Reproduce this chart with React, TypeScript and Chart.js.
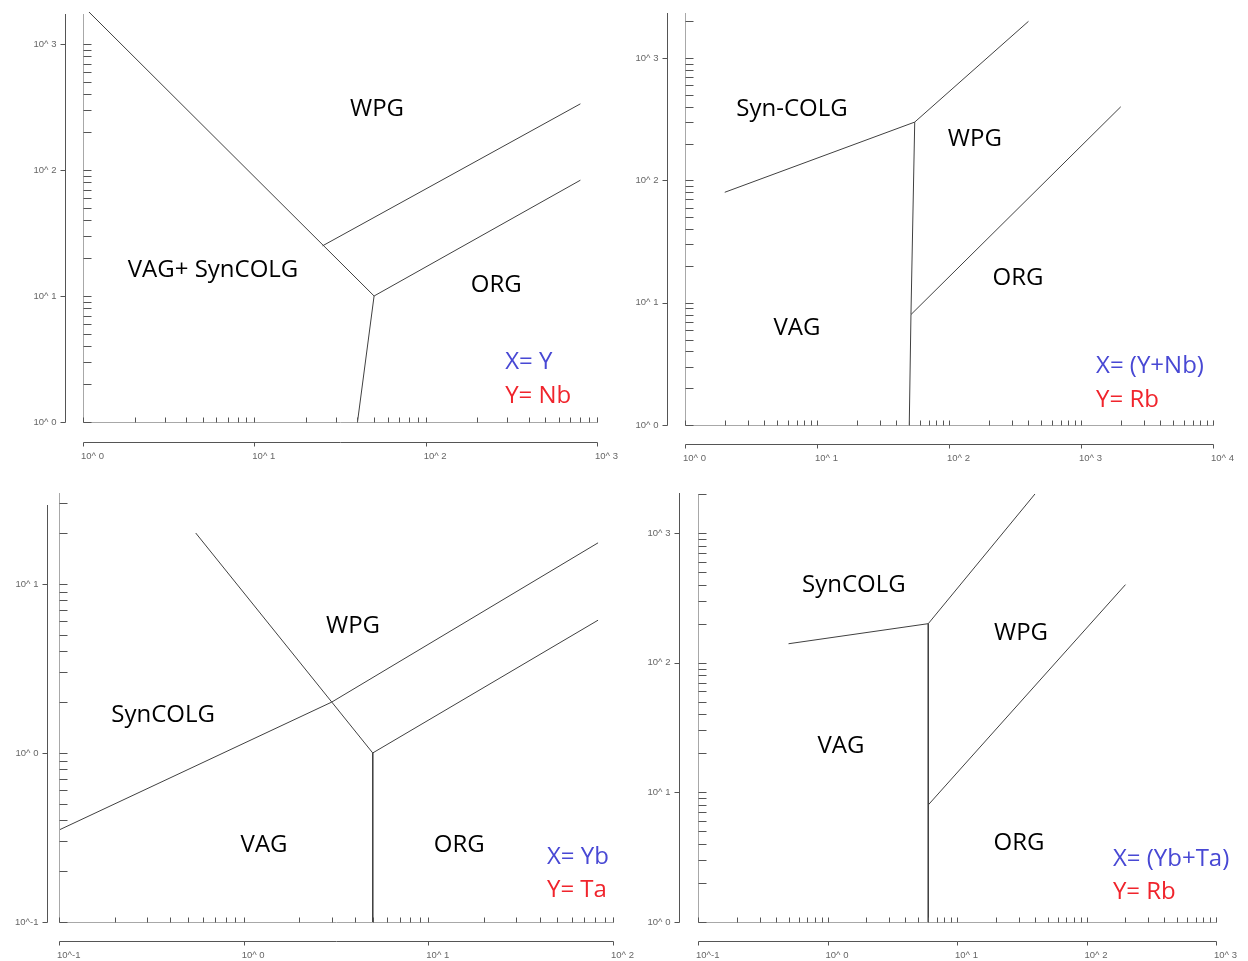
import React, { useEffect, useRef } from 'react';
import { Chart, registerables } from 'chart.js';

Chart.register(...registerables);

// ---------- Panel 1: Nb vs Y ----------
const P1_X_TICK_VALUES = [1, 10, 100, 1000];
const P1_X_TICK_LABELS = ['10^ 0', '10^ 1', '10^ 2', '10^ 3'];
const P1_Y_TICK_VALUES = [1, 10, 100, 1000];
const P1_Y_TICK_LABELS = ['10^ 0', '10^ 1', '10^ 2', '10^ 3'];
const P1_LINE_A_X = [1, 50, 40];
const P1_LINE_A_Y = [2000, 10, 1];
const P1_LINE_B_X = [50, 800];
const P1_LINE_B_Y = [10, 83];
const P1_LINE_C_X = [25, 800];
const P1_LINE_C_Y = [25, 335];
const P1_FIELD_NAMES = ['WPG', 'VAG+ SynCOLG', 'ORG'];
const P1_FIELD_X = [52, 5.74, 258];
const P1_FIELD_Y = [316, 16.7, 12.7];
const P1_AXIS_NAMES = ['X= Y', 'Y= Nb'];
const P1_AXIS_NAME_X = [291, 291];
const P1_AXIS_NAME_Y = [3.1, 1.67];

// ---------- Panel 2: Rb vs (Y+Nb) ----------
const P2_X_TICK_VALUES = [1, 10, 100, 1000, 10000];
const P2_X_TICK_LABELS = ['10^ 0', '10^ 1', '10^ 2', '10^ 3', '10^ 4'];
const P2_Y_TICK_VALUES = [1, 10, 100, 1000];
const P2_Y_TICK_LABELS = ['10^ 0', '10^ 1', '10^ 2', '10^ 3'];
const P2_LINE_A_X = [2, 55, 400];
const P2_LINE_A_Y = [80, 300, 2000];
const P2_LINE_B_X = [55, 51.5, 50];
const P2_LINE_B_Y = [300, 8, 1];
const P2_LINE_C_X = [51.5, 2000];
const P2_LINE_C_Y = [8, 400];
const P2_FIELD_NAMES = ['Syn-COLG', 'WPG', 'ORG', 'VAG'];
const P2_FIELD_X = [6.47, 157, 333, 7.05];
const P2_FIELD_Y = [398, 226, 16.5, 6.45];
const P2_AXIS_NAMES = ['X= (Y+Nb)', 'Y= Rb'];
const P2_AXIS_NAME_X = [1300, 1300];
const P2_AXIS_NAME_Y = [3.15, 1.66];

// ---------- Panel 3: Ta vs Yb ----------
const P3_X_TICK_VALUES = [0.1, 1, 10, 100];
const P3_X_TICK_LABELS = ['10^-1', '10^ 0', '10^ 1', '10^ 2'];
const P3_Y_TICK_VALUES = [0.1, 1, 10];
const P3_Y_TICK_LABELS = ['10^-1', '10^ 0', '10^ 1'];
const P3_LINE_A_X = [0.1, 3, 83];
const P3_LINE_A_Y = [0.35, 2, 17.5];
const P3_LINE_B_X = [0.55, 3, 5, 5];
const P3_LINE_B_Y = [20, 2, 1, 0.1];
const P3_LINE_C_X = [5, 83];
const P3_LINE_C_Y = [1, 6.1];
const P3_FIELD_NAMES = ['WPG', 'SynCOLG', 'VAG', 'ORG'];
const P3_FIELD_X = [3.91, 0.366, 1.29, 14.7];
const P3_FIELD_Y = [5.79, 1.73, 0.293, 0.293];
const P3_AXIS_NAMES = ['X= Yb', 'Y= Ta'];
const P3_AXIS_NAME_X = [43.9, 43.9];
const P3_AXIS_NAME_Y = [0.249, 0.159];

// ---------- Panel 4: Rb vs (Yb+Ta) ----------
const P4_X_TICK_VALUES = [0.1, 1, 10, 100, 1000];
const P4_X_TICK_LABELS = ['10^-1', '10^ 0', '10^ 1', '10^ 2', '10^ 3'];
const P4_Y_TICK_VALUES = [1, 10, 100, 1000];
const P4_Y_TICK_LABELS = ['10^ 0', '10^ 1', '10^ 2', '10^ 3'];
const P4_LINE_A_X = [0.5, 6, 40];
const P4_LINE_A_Y = [140, 200, 2000];
const P4_LINE_B_X = [6, 6, 6];
const P4_LINE_B_Y = [200, 8, 1];
const P4_LINE_C_X = [6, 200];
const P4_LINE_C_Y = [8, 400];
const P4_FIELD_NAMES = ['SynCOLG', 'WPG', 'VAG', 'ORG'];
const P4_FIELD_X = [1.6, 31.2, 1.27, 30.1];
const P4_FIELD_Y = [411, 175, 23.6, 4.21];
const P4_AXIS_NAMES = ['X= (Yb+Ta)', 'Y= Rb'];
const P4_AXIS_NAME_X = [160, 160];
const P4_AXIS_NAME_Y = [3.17, 1.77];

// ---------- styles ----------
const LINE_COLOR = '#404040';
const INNER_AXIS_COLOR = '#a8a8a8';
const OUTER_AXIS_COLOR = '#555555';
const TICK_COLOR = '#555555';
const TICK_LABEL_COLOR = '#666666';
const TICK_FONT = '9.5px "Liberation Sans", Arial, sans-serif';
const FIELD_FONT = '24px "Open Sans", sans-serif';
const TEXT_DY = 2;
const X_NAME_COLOR = '#4848d4';
const Y_NAME_COLOR = '#f0242c';

type PanelCfg = {
  left: number; top: number; width: number; height: number;
  pad: { left: number; top: number; right: number; bottom: number };
  xMin: number; xMax: number; yMin: number; yMax: number;
  xTickValues: number[]; xTickLabels: string[];
  yTickValues: number[]; yTickLabels: string[];
  outerYGap: number; outerYTopOffset: number; outerXGap: number;
  lines: { x: number[]; y: number[] }[];
  fieldNames: string[]; fieldX: number[]; fieldY: number[];
  axisNames: string[]; axisNameX: number[]; axisNameY: number[];
};

const PANELS: PanelCfg[] = [
  {
    left: 0, top: 0, width: 624, height: 480,
    pad: { left: 83, top: 14, right: 27, bottom: 58 },
    xMin: 1, xMax: 1000, yMin: 1, yMax: 1730,
    xTickValues: P1_X_TICK_VALUES, xTickLabels: P1_X_TICK_LABELS,
    yTickValues: P1_Y_TICK_VALUES, yTickLabels: P1_Y_TICK_LABELS,
    outerYGap: 18, outerYTopOffset: 0, outerXGap: 20,
    lines: [
      { x: P1_LINE_A_X, y: P1_LINE_A_Y },
      { x: P1_LINE_B_X, y: P1_LINE_B_Y },
      { x: P1_LINE_C_X, y: P1_LINE_C_Y },
    ],
    fieldNames: P1_FIELD_NAMES, fieldX: P1_FIELD_X, fieldY: P1_FIELD_Y,
    axisNames: P1_AXIS_NAMES, axisNameX: P1_AXIS_NAME_X, axisNameY: P1_AXIS_NAME_Y,
  },
  {
    left: 624, top: 0, width: 624, height: 480,
    pad: { left: 61, top: 13, right: 35, bottom: 55 },
    xMin: 1, xMax: 10000, yMin: 1, yMax: 2340,
    xTickValues: P2_X_TICK_VALUES, xTickLabels: P2_X_TICK_LABELS,
    yTickValues: P2_Y_TICK_VALUES, yTickLabels: P2_Y_TICK_LABELS,
    outerYGap: 18, outerYTopOffset: 0, outerXGap: 19,
    lines: [
      { x: P2_LINE_A_X, y: P2_LINE_A_Y },
      { x: P2_LINE_B_X, y: P2_LINE_B_Y },
      { x: P2_LINE_C_X, y: P2_LINE_C_Y },
    ],
    fieldNames: P2_FIELD_NAMES, fieldX: P2_FIELD_X, fieldY: P2_FIELD_Y,
    axisNames: P2_AXIS_NAMES, axisNameX: P2_AXIS_NAME_X, axisNameY: P2_AXIS_NAME_Y,
  },
  {
    left: 0, top: 480, width: 660, height: 481,
    pad: { left: 59, top: 13, right: 47, bottom: 39 },
    xMin: 0.1, xMax: 100, yMin: 0.1, yMax: 34.5,
    xTickValues: P3_X_TICK_VALUES, xTickLabels: P3_X_TICK_LABELS,
    yTickValues: P3_Y_TICK_VALUES, yTickLabels: P3_Y_TICK_LABELS,
    outerYGap: 12, outerYTopOffset: 12, outerXGap: 19,
    lines: [
      { x: P3_LINE_A_X, y: P3_LINE_A_Y },
      { x: P3_LINE_B_X, y: P3_LINE_B_Y },
      { x: P3_LINE_C_X, y: P3_LINE_C_Y },
    ],
    fieldNames: P3_FIELD_NAMES, fieldX: P3_FIELD_X, fieldY: P3_FIELD_Y,
    axisNames: P3_AXIS_NAMES, axisNameX: P3_AXIS_NAME_X, axisNameY: P3_AXIS_NAME_Y,
  },
  {
    left: 624, top: 480, width: 624, height: 481,
    pad: { left: 74, top: 14, right: 32, bottom: 39 },
    xMin: 0.1, xMax: 1000, yMin: 1, yMax: 2000,
    xTickValues: P4_X_TICK_VALUES, xTickLabels: P4_X_TICK_LABELS,
    yTickValues: P4_Y_TICK_VALUES, yTickLabels: P4_Y_TICK_LABELS,
    outerYGap: 19, outerYTopOffset: -1, outerXGap: 19,
    lines: [
      { x: P4_LINE_A_X, y: P4_LINE_A_Y },
      { x: P4_LINE_B_X, y: P4_LINE_B_Y },
      { x: P4_LINE_C_X, y: P4_LINE_C_Y },
    ],
    fieldNames: P4_FIELD_NAMES, fieldX: P4_FIELD_X, fieldY: P4_FIELD_Y,
    axisNames: P4_AXIS_NAMES, axisNameX: P4_AXIS_NAME_X, axisNameY: P4_AXIS_NAME_Y,
  },
];

function logMinorTicks(min: number, max: number): number[] {
  const out: number[] = [];
  const e0 = Math.floor(Math.log10(min)) - 1;
  const e1 = Math.ceil(Math.log10(max)) + 1;
  for (let e = e0; e <= e1; e++) {
    for (let m = 1; m <= 9; m++) {
      const v = m * Math.pow(10, e);
      if (v >= min * 0.9999 && v <= max * 1.0001) out.push(v);
    }
  }
  return out;
}

function makeAxesPlugin(p: PanelCfg) {
  return {
    id: 'pearceAxes',
    afterDraw(chart: any) {
      const ctx: CanvasRenderingContext2D = chart.ctx;
      const xs = chart.scales.x;
      const ys = chart.scales.y;
      const ca = chart.chartArea;
      const L = Math.round(ca.left) + 0.5;
      const B = Math.round(ca.bottom) + 0.5;
      const T = Math.round(ca.top);
      const R = Math.round(ca.right);
      ctx.save();
      ctx.lineWidth = 1;

      // inner axes
      ctx.strokeStyle = INNER_AXIS_COLOR;
      ctx.beginPath();
      ctx.moveTo(L, T);
      ctx.lineTo(L, B);
      ctx.lineTo(R + 0.5, B);
      ctx.lineTo(R + 0.5, B - 5);
      ctx.stroke();

      // inner minor ticks
      ctx.strokeStyle = TICK_COLOR;
      ctx.beginPath();
      for (const v of logMinorTicks(p.xMin, p.xMax)) {
        const px = Math.round(xs.getPixelForValue(v)) + 0.5;
        ctx.moveTo(px, B);
        ctx.lineTo(px, B - 5);
      }
      for (const v of logMinorTicks(p.yMin, p.yMax)) {
        const py = Math.round(ys.getPixelForValue(v)) + 0.5;
        ctx.moveTo(L, py);
        ctx.lineTo(L + 8, py);
      }
      ctx.stroke();

      // outer axes
      const ox = L - p.outerYGap;
      const oy = B + p.outerXGap;
      ctx.strokeStyle = OUTER_AXIS_COLOR;
      ctx.beginPath();
      ctx.moveTo(ox, T + p.outerYTopOffset);
      ctx.lineTo(ox, B);
      ctx.moveTo(L, oy);
      ctx.lineTo(R + 0.5, oy);
      for (const v of p.yTickValues) {
        const py = Math.round(ys.getPixelForValue(v)) + 0.5;
        ctx.moveTo(ox - 5, py);
        ctx.lineTo(ox, py);
      }
      for (const v of p.xTickValues) {
        const px = Math.round(xs.getPixelForValue(v)) + 0.5;
        ctx.moveTo(px, oy);
        ctx.lineTo(px, oy + 4);
      }
      ctx.stroke();

      // tick labels
      ctx.fillStyle = TICK_LABEL_COLOR;
      ctx.font = TICK_FONT;
      ctx.textBaseline = 'middle';
      ctx.textAlign = 'right';
      p.yTickValues.forEach((v, i) => {
        ctx.fillText(p.yTickLabels[i], ox - 9, ys.getPixelForValue(v));
      });
      ctx.textAlign = 'left';
      p.xTickValues.forEach((v, i) => {
        ctx.fillText(p.xTickLabels[i], xs.getPixelForValue(v) - 2, oy + 14);
      });

      // field names
      ctx.font = FIELD_FONT;
      ctx.fillStyle = '#000000';
      ctx.textAlign = 'center';
      p.fieldNames.forEach((t, i) => {
        ctx.fillText(t, xs.getPixelForValue(p.fieldX[i]), ys.getPixelForValue(p.fieldY[i]) + TEXT_DY);
      });

      // axis variable names
      ctx.textAlign = 'left';
      p.axisNames.forEach((t, i) => {
        ctx.fillStyle = i === 0 ? X_NAME_COLOR : Y_NAME_COLOR;
        ctx.fillText(t, xs.getPixelForValue(p.axisNameX[i]), ys.getPixelForValue(p.axisNameY[i]) + TEXT_DY);
      });
      ctx.restore();
    },
  };
}

function Panel({ cfg }: { cfg: PanelCfg }) {
  const ref = useRef<HTMLCanvasElement | null>(null);
  useEffect(() => {
    if (!ref.current) return;
    const chart = new Chart(ref.current, {
      type: 'scatter',
      data: {
        datasets: cfg.lines.map((l) => ({
          data: l.x.map((x, i) => ({ x, y: l.y[i] })),
          showLine: true,
          borderColor: LINE_COLOR,
          borderWidth: 1,
          pointRadius: 0,
          pointHoverRadius: 0,
          fill: false,
          tension: 0,
          clip: { left: 0, top: 2, right: 0, bottom: 0 },
        })),
      },
      options: {
        responsive: false,
        animation: false,
        devicePixelRatio: 1,
        events: [],
        layout: { padding: cfg.pad },
        plugins: { legend: { display: false }, tooltip: { enabled: false } },
        scales: {
          x: { type: 'logarithmic', min: cfg.xMin, max: cfg.xMax, display: false },
          y: { type: 'logarithmic', min: cfg.yMin, max: cfg.yMax, display: false },
        },
      } as any,
      plugins: [makeAxesPlugin(cfg)],
    });
    return () => chart.destroy();
  }, [cfg]);
  return (
    <canvas
      ref={ref}
      width={cfg.width}
      height={cfg.height}
      style={{ position: 'absolute', left: cfg.left, top: cfg.top, width: cfg.width, height: cfg.height }}
    />
  );
}

export default function App() {
  return (
    <div style={{ position: 'absolute', left: 0, top: 0, width: 1248, height: 961, background: '#ffffff' }}>
      {PANELS.map((p, i) => (
        <Panel key={i} cfg={p} />
      ))}
    </div>
  );
}
